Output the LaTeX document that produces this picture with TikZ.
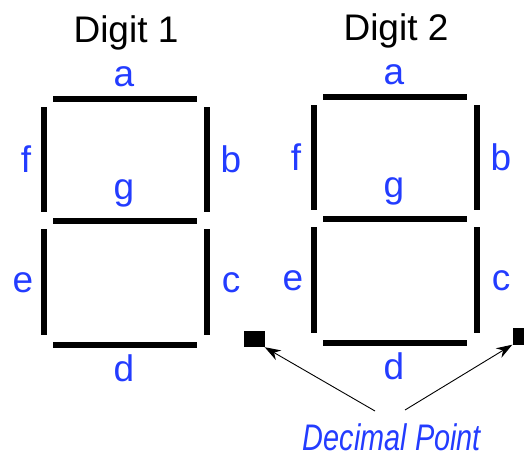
\documentclass[tikz,border=0pt]{standalone}
\usepackage{fontspec}
\setmainfont{Liberation Sans}
\usetikzlibrary{arrows.meta}
\definecolor{segblue}{RGB}{35,60,255}

\begin{document}
\begin{tikzpicture}[x=1pt, y=-1pt, >={Stealth[length=16pt, width=11pt]},
    seg/.style={line width=6.5pt, black},
    lbl/.style={text=segblue, anchor=base, inner sep=0pt, font=\fontsize{37}{40}\selectfont},
    ttl/.style={anchor=base, inner sep=0pt, font=\fontsize{37}{40}\selectfont}]
    \useasboundingbox (0,0) rectangle (524,458);

    % Two seven-segment digits, the second one shifted to the right
    \foreach \n/\dx/\dy in {1/0/0, 2/270/-2} {
        \begin{scope}[shift={(\dx,\dy)}]
            \node[ttl] (title\n) at (126,42) {Digit \n};
            \draw[seg] (53,99) -- (197,99);
            \draw[seg] (44,107) -- (44,212);
            \draw[seg] (207,107) -- (207,212);
            \draw[seg] (53,221) -- (197,221);
            \draw[seg] (44,229) -- (44,335);
            \draw[seg] (207,229) -- (207,335);
            \draw[seg] (53,345) -- (197,345);

            \node[lbl] (a\n) at (124,86) {a};
            \node[lbl] (f\n) at (26,172) {f};
            \node[lbl] (b\n) at (231,172) {b};
            \node[lbl] (g\n) at (124,199) {g};
            \node[lbl] (e\n) at (23,292) {e};
            \node[lbl] (c\n) at (231,292) {c};
            \node[lbl] (d\n) at (124,381) {d};
        \end{scope}
    }

    % Decimal points
    \node[fill, inner sep=0pt, minimum width=21pt, minimum height=16pt] (dp1) at (254,339) {};
    \node[fill, inner sep=0pt, minimum width=19pt, minimum height=17pt] (dp2) at (522,336) {};

    \node[lbl, font=\itshape\fontsize{37}{40}\selectfont, xscale=0.78] (point) at (392,450) {Decimal Point};
    \coordinate (tail1) at (375,411);
    \coordinate (tail2) at (405,410);
    \draw[->, line width=0.9pt] (tail1) -- (dp1.south east);
    \draw[->, line width=0.9pt] (tail2) -- (dp2.south west);
\end{tikzpicture}
\end{document}
